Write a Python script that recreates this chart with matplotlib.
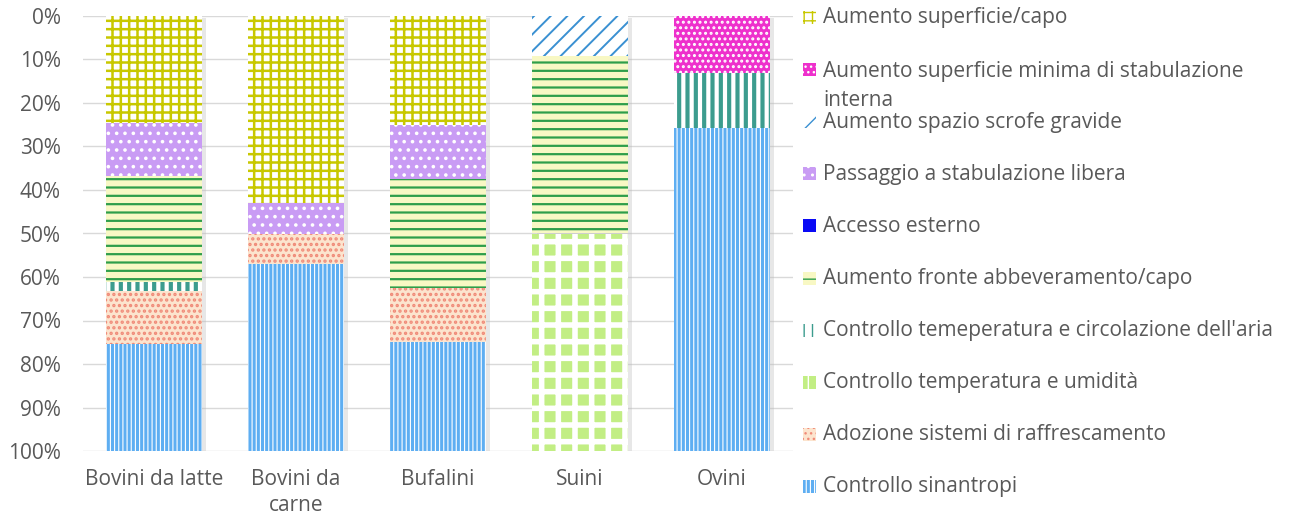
import matplotlib
matplotlib.use('Agg')
import numpy as np
import matplotlib.pyplot as plt
from matplotlib.patches import Rectangle
import matplotlib.ticker as mtick

plt.rcParams['font.family'] = ['Open Sans', 'DejaVu Sans']

categories = ['Bovini da latte', 'Bovini da\ncarne', 'Bufalini', 'Suini', 'Ovini']

# series listed from the top of each bar down to the bottom
series = [
    'Aumento superficie/capo',
    'Aumento superficie minima di stabulazione\ninterna',
    'Aumento spazio scrofe gravide',
    'Passaggio a stabulazione libera',
    'Accesso esterno',
    'Aumento fronte abbeveramento/capo',
    "Controllo temeperatura e circolazione dell'aria",
    'Controllo temperatura e umidità',
    'Adozione sistemi di raffrescamento',
    'Controllo sinantropi',
]

# percentages per category
sup_capo = [24.5, 43.1, 25.0, 0.0, 0.0]
sup_minima = [0.0, 0.0, 0.0, 0.0, 13.1]
scrofe = [0.0, 0.0, 0.0, 9.1, 0.0]
passaggio = [12.2, 6.9, 12.5, 0.0, 0.0]
accesso = [0.0, 0.0, 0.0, 0.0, 0.0]
fronte = [24.5, 0.0, 25.0, 40.9, 0.0]
temp_aria = [2.0, 0.0, 0.0, 0.0, 12.7]
temp_umid = [0.0, 0.0, 0.0, 50.0, 0.0]
raffresc = [12.2, 6.9, 12.5, 0.0, 0.0]
sinantropi = [24.5, 43.1, 25.0, 0.0, 74.2]

values = [sup_capo, sup_minima, scrofe, passaggio, accesso,
          fronte, temp_aria, temp_umid, raffresc, sinantropi]

# (face, hatch colour, hatch, hatch linewidth)
styles = [
    ('white', '#C8C800', '++', 1.8),
    ('#EE30CC', 'white', '...', 1.4),
    ('white', '#3A90D2', '//', 1.4),
    ('#C99CF4', 'white', '..', 1.4),
    ('#0A0AF5', '#0A0AF5', '', 1.0),
    ('#F8F8C4', '#2E9E4A', '--', 1.6),
    ('white', '#3C9C8E', '||', 3.0),
    ('#C2EE84', 'white', '+', 4.0),
    ('#FCE4CE', '#F08A78', '...', 1.6),
    ('#5EAEF2', 'white', '||||', 0.8),
]

W, H = 1289, 522
fig = plt.figure(figsize=(W / 100, H / 100), dpi=100)
ax = fig.add_axes([83 / W, 1 - 451 / H, 710 / W, 435 / H])

x = np.arange(len(categories))
width = 0.67

totals = np.sum(values, axis=0)
ax.bar(x + 0.03, totals, width, bottom=0.5, color='#BBBBBB', alpha=0.35,
       linewidth=0, zorder=1)

bottom = np.zeros(len(categories))
for vals, (face, hc, hatch, hlw) in zip(values, styles):
    with plt.rc_context({'hatch.linewidth': hlw}):
        bars = ax.bar(x, vals, width, bottom=bottom, color=face,
                      edgecolor=hc, hatch=hatch or None, linewidth=0,
                      zorder=2)
    for b in bars:
        try:
            b.set_hatch_linewidth(hlw)
        except AttributeError:
            pass
    bottom += np.array(vals)

ax.set_ylim(100, 0)
ax.set_xlim(-0.5, len(categories) - 0.5)
ax.set_yticks(np.arange(0, 101, 10))
ax.yaxis.set_major_formatter(mtick.PercentFormatter(decimals=0))
ax.set_xticks(x)
ax.set_xticklabels(categories, linespacing=1.3)
ax.grid(axis='y', color='#D9D9D9', linewidth=1)
ax.set_axisbelow(True)
for s in ax.spines.values():
    s.set_visible(False)
ax.tick_params(length=0, labelsize=15, colors='#595959')
ax.tick_params(axis='y', pad=16)
ax.tick_params(axis='x', pad=13)

# legend drawn by hand, evenly spaced down the right side
for i, (name, (face, hc, hatch, hlw)) in enumerate(zip(series, styles)):
    yc = 18 + i * 52.1
    with plt.rc_context({'hatch.linewidth': min(hlw, 1.0)}):
        r = Rectangle((803 / W, 1 - (yc + 6) / H), 13 / W, 13 / H,
                      transform=fig.transFigure, facecolor=face,
                      edgecolor=hc, hatch=hatch or None, linewidth=0)
    fig.add_artist(r)
    if '\n' in name:
        fig.text(823 / W, 1 - (yc - 9) / H, name, fontsize=15,
                 color='#595959', va='top', ha='left', linespacing=1.5)
    else:
        fig.text(823 / W, 1 - yc / H, name, fontsize=15, color='#595959',
                 va='center', ha='left')

fig.savefig('out.png', dpi=100)
